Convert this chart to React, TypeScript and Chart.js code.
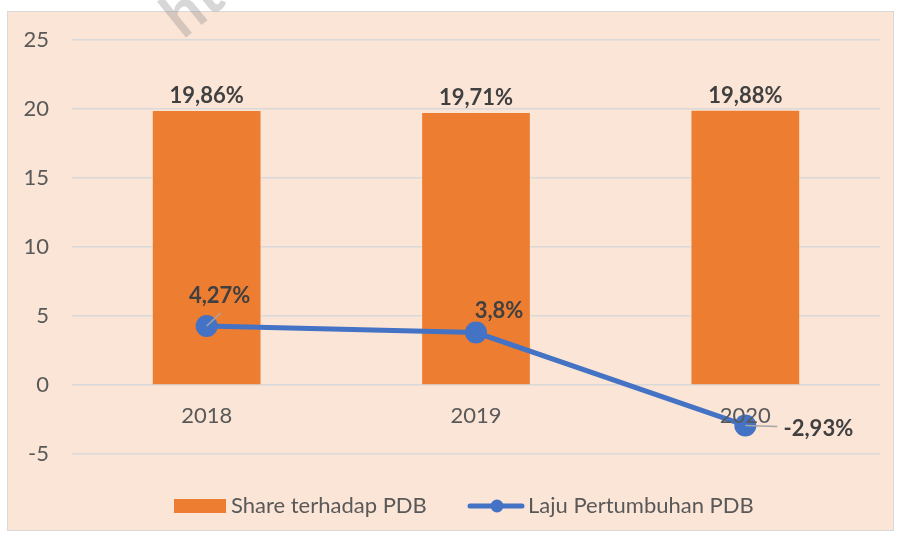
import React, { useEffect, useRef } from "react";
import { Chart, registerables } from "chart.js";

Chart.register(...registerables);

const categories = ["2018", "2019", "2020"];
const shareValues = [19.86, 19.71, 19.88];
const growthValues = [4.27, 3.8, -2.93];
const shareLabels = ["19,86%", "19,71%", "19,88%"];
const growthLabels = ["4,27%", "3,8%", "-2,93%"];
const seriesNames = ["Share terhadap PDB", "Laju Pertumbuhan PDB"];
const yMin = -5;
const yMax = 25;
const yStep = 5;

const ORANGE = "#ED7D31";
const BLUE = "#4472C4";
const BG = "#FBE5D6";
const TEXT = "#595959";
const LABEL = "#404040";
const FONT = "Lato, 'Open Sans', sans-serif";

// offsets for the line data labels (label centre relative to point) and leader line ends
const growthLabelOffsets = [
  { dx: 13, dy: -30, leader: { dx: 14, dy: -13 } },
  { dx: 23, dy: -22, leader: null },
  { dx: 73, dy: 3, leader: { dx: 32, dy: 1 } },
];

const framePlugin = {
  id: "frame",
  beforeDraw(chart: any) {
    const ctx = chart.ctx;
    ctx.save();
    ctx.fillStyle = "#ffffff";
    ctx.fillRect(0, 0, chart.width, chart.height);
    ctx.fillStyle = BG;
    ctx.fillRect(8, 11, 886, 519);
    ctx.strokeStyle = "#D9D9D9";
    ctx.lineWidth = 1;
    ctx.strokeRect(7.5, 11.5, 886, 519);
    ctx.restore();
  },
};

const overlayPlugin = {
  id: "overlay",
  afterDatasetsDraw(chart: any) {
    const ctx = chart.ctx;
    const x = chart.scales.x;
    const y = chart.scales.y;
    const barMeta = chart.getDatasetMeta(0);
    const lineMeta = chart.getDatasetMeta(1);
    ctx.save();

    // category labels next to the zero line
    ctx.font = `22px ${FONT}`;
    ctx.fillStyle = TEXT;
    ctx.textAlign = "center";
    ctx.textBaseline = "middle";
    categories.forEach((c, i) => {
      ctx.fillText(c, x.getPixelForValue(i), y.getPixelForValue(0) + 31);
    });

    // bar labels
    ctx.font = `bold 22px ${FONT}`;
    ctx.fillStyle = LABEL;
    barMeta.data.forEach((el: any, i: number) => {
      ctx.fillText(shareLabels[i], el.x, el.y - 15);
    });

    // line labels with leader lines
    lineMeta.data.forEach((el: any, i: number) => {
      const o = growthLabelOffsets[i];
      if (o.leader) {
        ctx.strokeStyle = "#A6A6A6";
        ctx.lineWidth = 1.5;
        ctx.beginPath();
        ctx.moveTo(el.x, el.y);
        ctx.lineTo(el.x + o.leader.dx, el.y + o.leader.dy);
        ctx.stroke();
      }
      ctx.fillStyle = LABEL;
      ctx.fillText(growthLabels[i], el.x + o.dx, el.y + o.dy);
    });

    // legend
    const ly = 506;
    ctx.font = `22px ${FONT}`;
    ctx.textAlign = "left";
    ctx.fillStyle = ORANGE;
    ctx.fillRect(174, 499, 52, 14);
    ctx.fillStyle = TEXT;
    ctx.fillText(seriesNames[0], 231, ly);
    ctx.strokeStyle = BLUE;
    ctx.lineWidth = 5;
    ctx.lineCap = "round";
    ctx.beginPath();
    ctx.moveTo(470, ly);
    ctx.lineTo(522, ly);
    ctx.stroke();
    ctx.fillStyle = BLUE;
    ctx.beginPath();
    ctx.arc(497, ly, 6.5, 0, Math.PI * 2);
    ctx.fill();
    ctx.fillStyle = TEXT;
    ctx.fillText(seriesNames[1], 528, ly);

    // faint watermark
    ctx.translate(183, 40);
    ctx.rotate(-0.68);
    ctx.font = `bold 62px ${FONT}`;
    ctx.fillStyle = "rgba(140,140,140,0.35)";
    ctx.textAlign = "left";
    ctx.textBaseline = "alphabetic";
    ctx.fillText("ht", 0, 0);
    ctx.restore();
  },
};

export default function App() {
  const ref = useRef<HTMLCanvasElement>(null);
  useEffect(() => {
    document.body.style.margin = "0";
    const chart = new Chart(ref.current!, {
      type: "bar",
      data: {
        labels: categories,
        datasets: [
          {
            type: "bar",
            label: seriesNames[0],
            data: shareValues,
            backgroundColor: ORANGE,
            categoryPercentage: 1,
            barPercentage: 0.4,
            order: 2,
          },
          {
            type: "line",
            label: seriesNames[1],
            data: growthValues,
            borderColor: BLUE,
            backgroundColor: BLUE,
            borderWidth: 5,
            pointRadius: 11,
            pointHoverRadius: 11,
            pointBackgroundColor: BLUE,
            pointBorderWidth: 0,
            tension: 0,
            order: 1,
          } as any,
        ],
      },
      options: {
        responsive: false,
        animation: false,
        events: [],
        layout: { padding: { top: 40, bottom: 81, left: 0, right: 20 } },
        plugins: { legend: { display: false }, tooltip: { enabled: false } },
        scales: {
          x: { display: false, offset: true },
          y: {
            min: yMin,
            max: yMax,
            ticks: {
              stepSize: yStep,
              color: TEXT,
              font: { family: FONT, size: 22 },
              padding: 23,
            },
            grid: { color: "#D9D9D9", lineWidth: 1.5, drawTicks: false },
            border: { display: false },
            afterFit(scale: any) {
              scale.width = 72;
            },
          },
        },
      },
      plugins: [framePlugin, overlayPlugin],
    });
    return () => chart.destroy();
  }, []);
  return (
    <div style={{ width: 900, height: 535 }}>
      <canvas ref={ref} width={900} height={535} style={{ display: "block" }} />
    </div>
  );
}
